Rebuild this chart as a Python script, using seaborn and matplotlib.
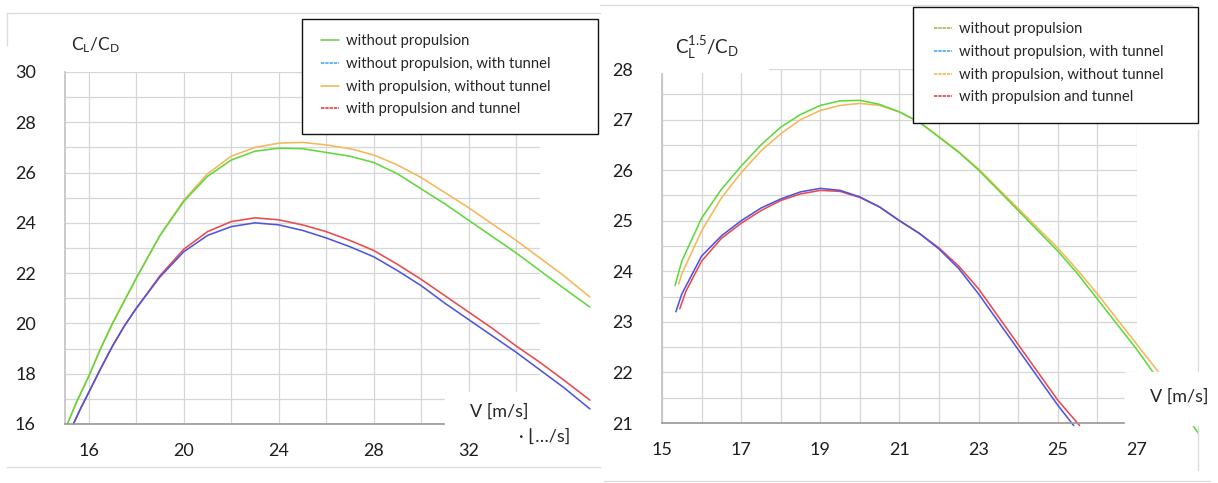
#!/usr/bin/env python3
"""Lift-to-drag curves vs flight speed, with and without propulsion / tunnel."""

import matplotlib
matplotlib.use("Agg")
import matplotlib.pyplot as plt
from matplotlib.lines import Line2D
from matplotlib.patches import Rectangle
from matplotlib.ticker import MultipleLocator, FixedLocator
import pandas as pd
import seaborn as sns

# ---- data ----
SERIES = [
    "without propulsion",
    "without propulsion, with tunnel",
    "with propulsion, without tunnel",
    "with propulsion and tunnel",
]

# left panel: CL/CD
ld_v_green = [15.1, 15.5, 16, 16.5, 17, 17.5, 18, 19, 20, 21, 22, 23, 24, 25, 26, 27, 28,
              29, 30, 31, 32, 33, 34, 35, 36, 37.1]
ld_green = [16.0, 16.9, 17.9, 19.0, 20.0, 20.9, 21.8, 23.5, 24.85, 25.85, 26.5, 26.85, 26.97,
            26.95, 26.8, 26.65, 26.4, 25.95, 25.35, 24.75, 24.1, 23.45, 22.8, 22.1, 21.4, 20.65]
ld_v_orange = [15.1, 15.5, 16, 16.5, 17, 17.5, 18, 19, 20, 21, 22, 23, 24, 25, 26, 27, 28,
               29, 30, 31, 32, 33, 34, 35, 36, 37.1]
ld_orange = [16.0, 16.9, 17.9, 19.0, 20.0, 20.9, 21.8, 23.5, 24.9, 25.95, 26.65, 27.0, 27.17,
             27.2, 27.1, 26.95, 26.7, 26.3, 25.8, 25.2, 24.6, 23.95, 23.3, 22.6, 21.9, 21.05]
ld_v_blue = [15.35, 15.7, 16.05, 16.5, 17, 17.5, 18, 19, 20, 21, 22, 23, 24, 25, 26, 27, 28,
             29, 30, 31, 32, 33, 34, 35, 36, 37.1]
ld_blue = [16.0, 16.7, 17.35, 18.2, 19.1, 19.9, 20.6, 21.85, 22.85, 23.5, 23.85, 24.0, 23.92,
           23.7, 23.4, 23.05, 22.65, 22.1, 21.5, 20.8, 20.15, 19.5, 18.85, 18.15, 17.45, 16.6]
ld_v_red = [15.35, 15.7, 16.05, 16.5, 17, 17.5, 18, 19, 20, 21, 22, 23, 24, 25, 26, 27, 28,
            29, 30, 31, 32, 33, 34, 35, 36, 37.1]
ld_red = [16.0, 16.7, 17.35, 18.2, 19.1, 19.9, 20.6, 21.9, 22.95, 23.65, 24.05, 24.2, 24.12,
          23.92, 23.65, 23.3, 22.9, 22.35, 21.75, 21.1, 20.45, 19.8, 19.1, 18.45, 17.75, 16.95]

# right panel: CL^1.5/CD
en_v_green = [15.33, 15.5, 16, 16.5, 17, 17.5, 18, 18.5, 19, 19.5, 20, 20.5, 21, 21.5, 22,
              22.5, 23, 23.5, 24, 24.5, 25, 25.5, 26, 26.5, 27, 27.5, 28, 28.55]
en_green = [23.72, 24.2, 25.05, 25.62, 26.08, 26.5, 26.85, 27.1, 27.28, 27.37, 27.38, 27.3,
            27.15, 26.95, 26.65, 26.35, 26.0, 25.6, 25.2, 24.8, 24.4, 23.95, 23.45, 22.95,
            22.45, 21.9, 21.4, 20.8]
en_v_orange = [15.42, 15.5, 16, 16.5, 17, 17.5, 18, 18.5, 19, 19.5, 20, 20.5, 21, 21.5, 22,
               22.5, 23, 23.5, 24, 24.5, 25, 25.5, 26, 26.5, 27, 27.5, 28, 28.55]
en_orange = [23.75, 23.95, 24.8, 25.45, 25.95, 26.38, 26.72, 27.0, 27.18, 27.28, 27.32, 27.28,
             27.15, 26.95, 26.66, 26.36, 26.02, 25.63, 25.24, 24.85, 24.46, 24.02, 23.55,
             23.05, 22.55, 22.05, 21.55, 20.95]
en_v_blue = [15.35, 15.5, 16, 16.5, 17, 17.5, 18, 18.5, 19, 19.5, 20, 20.5, 21, 21.5, 22,
             22.5, 23, 23.5, 24, 24.5, 25, 25.4]
en_blue = [23.2, 23.55, 24.3, 24.7, 25.0, 25.25, 25.43, 25.57, 25.64, 25.6, 25.47, 25.27,
           25.0, 24.75, 24.44, 24.05, 23.55, 23.0, 22.45, 21.9, 21.35, 20.95]
en_v_red = [15.45, 15.6, 16, 16.5, 17, 17.5, 18, 18.5, 19, 19.5, 20, 20.5, 21, 21.5, 22,
            22.5, 23, 23.5, 24, 24.5, 25, 25.55]
en_red = [23.26, 23.6, 24.2, 24.65, 24.95, 25.2, 25.4, 25.53, 25.6, 25.58, 25.46, 25.27,
          25.0, 24.75, 24.46, 24.1, 23.65, 23.1, 22.55, 22.0, 21.45, 20.95]

LINE_COLORS = ["#5fd83e", "#4f55e0", "#f4b75a", "#ea4a4c"]
LEFT_KEY_COLORS = ["#6cc94a", "#3fa0e8", "#f2b441", "#e0303c"]
LEFT_KEY_DASH = [False, True, False, True]
RIGHT_KEY_COLORS = ["#a9ad3c", "#3fa0e8", "#f2b441", "#e0303c"]
RIGHT_KEY_DASH = [True, True, True, True]

W, H = 1218, 483


def fx(px):
    return px / W


def fy(py):
    return 1 - py / H


def long_frame(pairs):
    rows = []
    for name, (vs, ys) in zip(SERIES, pairs):
        for v, y in zip(vs, ys):
            rows.append({"V": v, "value": y, "series": name})
    return pd.DataFrame(rows)


def style_axes(ax):
    ax.grid(which="both", color="#d6d6d6", linewidth=0.9)
    ax.set_axisbelow(True)
    for s in ["top", "right"]:
        ax.spines[s].set_visible(False)
    ax.spines["left"].set_color("#c4c4c4")
    ax.spines["bottom"].set_color("#9a9a9a")
    ax.tick_params(which="both", length=0, labelsize=13, labelcolor="#1e1e1e")
    ax.tick_params(axis="x", pad=14)
    ax.tick_params(axis="y", pad=21)
    ax.set_xlabel("")
    ax.set_ylabel("")


def key(fig, colors, dashed, box, anchor):
    """box = (x0, y0, x1, y1) in pixels; anchor = top-left of the first handle."""
    handles = []
    for c, d in zip(colors, dashed):
        ls = (0, (2.2, 0.6)) if d else "-"
        handles.append(Line2D([], [], color=c, lw=1.1, linestyle=ls))
    leg = fig.legend(handles, SERIES, loc="upper left",
                     bbox_to_anchor=(fx(anchor[0]), fy(anchor[1])),
                     bbox_transform=fig.transFigure, frameon=False, fontsize=10.6,
                     handlelength=1.25, handletextpad=0.45, labelspacing=0.6,
                     borderpad=0, borderaxespad=0)
    leg.set_zorder(21)
    x0, y0, x1, y1 = box
    fig.add_artist(Rectangle((fx(x0), fy(y1)), fx(x1) - fx(x0), fy(y0) - fy(y1),
                             transform=fig.transFigure, facecolor="white",
                             edgecolor="#111111", linewidth=1.0, zorder=20))


def main():
    sns.set_theme(style="white")
    plt.rcParams["font.family"] = ["Lato", "DejaVu Sans"]
    plt.rcParams["mathtext.default"] = "regular"

    fig = plt.figure(figsize=(W / 100, H / 100), dpi=100)
    ax1 = fig.add_axes([fx(65), fy(424), fx(540) - fx(65), fy(72) - fy(424)])
    ax2 = fig.add_axes([fx(662), fy(423), fx(1137) - fx(662), fy(69) - fy(423)])

    left = long_frame([(ld_v_green, ld_green), (ld_v_blue, ld_blue),
                       (ld_v_orange, ld_orange), (ld_v_red, ld_red)])
    right = long_frame([(en_v_green, en_green), (en_v_blue, en_blue),
                        (en_v_orange, en_orange), (en_v_red, en_red)])
    order = [SERIES[2], SERIES[0], SERIES[3], SERIES[1]]
    pal = dict(zip(SERIES, LINE_COLORS))

    for ax, df in [(ax1, left), (ax2, right)]:
        sns.lineplot(data=df, x="V", y="value", hue="series", hue_order=order,
                     palette=pal, sort=False, estimator=None, linewidth=1.15,
                     legend=False, clip_on=False, ax=ax)
        style_axes(ax)

    ax1.set_xlim(15, 35)
    ax1.set_ylim(16, 30)
    ax1.xaxis.set_major_locator(MultipleLocator(4))
    ax1.xaxis.set_minor_locator(MultipleLocator(2))
    ax1.yaxis.set_major_locator(MultipleLocator(2))
    ax1.yaxis.set_minor_locator(MultipleLocator(1))

    ax2.set_xlim(15, 27)
    ax2.set_ylim(21, 28)
    ax2.xaxis.set_major_locator(FixedLocator([15, 17, 19, 21, 23, 25, 27]))
    ax2.xaxis.set_minor_locator(MultipleLocator(1))
    ax2.yaxis.set_major_locator(MultipleLocator(1))
    ax2.yaxis.set_minor_locator(MultipleLocator(0.5))

    # axis titles as in the screenshot
    fig.text(fx(71), fy(45), "$C_L/C_D$", fontsize=12.5, va="center", ha="left")
    fig.text(fx(675), fy(48), "$C_L^{1.5}/C_D$", fontsize=13.5, va="center", ha="left")

    # the top grid line of the right chart is cut under its title
    fig.add_artist(Rectangle((fx(655), fy(72)), fx(768) - fx(655), fy(65) - fy(72),
                             transform=fig.transFigure, color="white", zorder=9))

    # white boxes under the speed labels
    fig.add_artist(Rectangle((fx(445), fy(425)), fx(565) - fx(445), fy(392) - fy(425),
                             transform=fig.transFigure, color="white", zorder=10))
    fig.add_artist(Rectangle((fx(1125), fy(425)), fx(1218) - fx(1125), fy(372) - fy(425),
                             transform=fig.transFigure, color="white", zorder=10))
    fig.text(fx(499), fy(412), "V [m/s]", fontsize=13, ha="center", va="center", zorder=11)
    fig.text(fx(545), fy(437), "· ⌊…/s]", fontsize=13, ha="center", va="center",
             zorder=11, family=["Lato", "DejaVu Sans"])
    fig.text(fx(1179), fy(397), "V [m/s]", fontsize=13, ha="center", va="center", zorder=11)

    # faint frame lines of the pasted screenshots
    frame = dict(color="#dcdcdc", lw=1.0, transform=fig.transFigure, zorder=1)
    fig.add_artist(Line2D([fx(7), fx(600)], [fy(13), fy(13)], **frame))
    fig.add_artist(Line2D([fx(7), fx(7)], [fy(13), fy(45)], **frame))
    fig.add_artist(Line2D([fx(7), fx(600)], [fy(467), fy(467)], **frame))
    fig.add_artist(Line2D([fx(600), fx(1192)], [fy(5), fy(5)], **frame))
    fig.add_artist(Line2D([fx(1198), fx(1198)], [fy(130), fy(470)], **frame))
    fig.add_artist(Line2D([fx(604), fx(1210)], [fy(481), fy(481)], **frame))

    key(fig, LEFT_KEY_COLORS, LEFT_KEY_DASH, (302, 19, 598, 134), (321, 34))
    key(fig, RIGHT_KEY_COLORS, RIGHT_KEY_DASH, (913, 7, 1198, 123), (934, 22))

    fig.savefig("out.png", dpi=100, facecolor="white")


if __name__ == "__main__":
    main()
